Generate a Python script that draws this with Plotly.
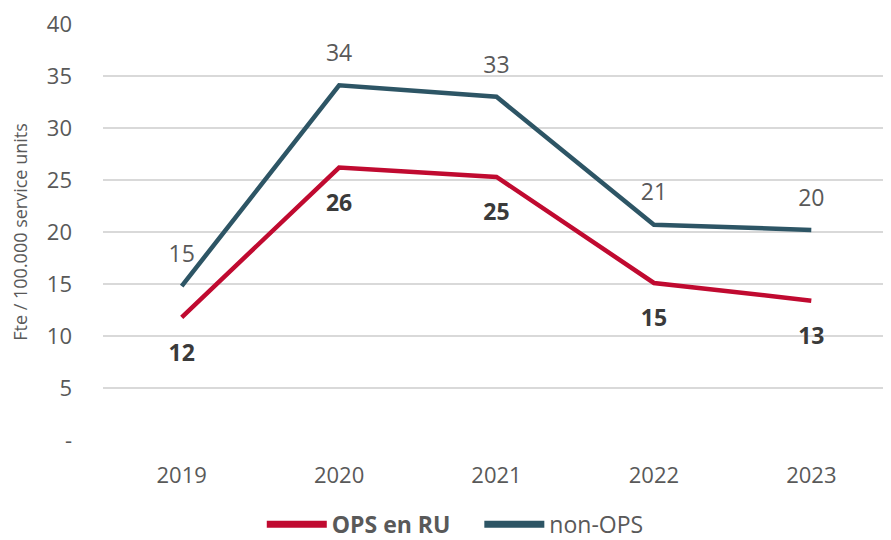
import plotly.graph_objects as go

years = ["2019", "2020", "2021", "2022", "2023"]
ops_ru = [11.8, 26.2, 25.3, 15.1, 13.4]
non_ops = [14.8, 34.1, 33.0, 20.7, 20.2]
y_ticks = [0, 5, 10, 15, 20, 25, 30, 35, 40]
y_tick_labels = ["-", "5", "10", "15", "20", "25", "30", "35", "40"]
series_names = ["<b>OPS en RU</b>\u00a0\u00a0\u00a0\u00a0", "non-OPS"]

RED = "#C00A30"
TEAL = "#2D5565"
GREY = "#595959"
FONT = "Open Sans, sans-serif"

fig = go.Figure()
fig.add_trace(go.Scatter(x=years, y=ops_ru, mode="lines", showlegend=False,
                         line=dict(color=RED, width=4.5), hoverinfo="skip"))
fig.add_trace(go.Scatter(x=years, y=non_ops, mode="lines", showlegend=False,
                         line=dict(color=TEAL, width=4.5), hoverinfo="skip"))
# data labels
fig.add_trace(go.Scatter(x=years, y=ops_ru, mode="markers+text", showlegend=False,
                         marker=dict(size=40, opacity=0, color=RED),
                         text=[f"<b>{v:.0f}</b>" for v in ops_ru], textposition="bottom center",
                         textfont=dict(family=FONT, size=23, color="#3a3a3a"),
                         hoverinfo="skip"))
fig.add_trace(go.Scatter(x=years, y=non_ops, mode="markers+text", showlegend=False,
                         marker=dict(size=28, opacity=0, color=TEAL),
                         text=[f"{v:.0f}" for v in non_ops], textposition="top center",
                         textfont=dict(family=FONT, size=23, color=GREY),
                         hoverinfo="skip"))
# legend entries
for name, col in zip(series_names, [RED, TEAL]):
    fig.add_trace(go.Scatter(x=[None], y=[None], mode="lines", name=name,
                             line=dict(color=col, width=7)))

fig.update_layout(
    width=891, height=540,
    margin=dict(l=95, r=9, t=16, b=108),
    paper_bgcolor="white", plot_bgcolor="white",
    font=dict(family=FONT, size=22, color=GREY),
    showlegend=True,
    legend=dict(orientation="h", xref="container", yref="container",
                x=0.502, xanchor="center", y=0.044, yanchor="middle",
                font=dict(family=FONT, size=23, color=GREY), itemwidth=60,
                tracegroupgap=0),
)
fig.update_xaxes(type="category", range=[-0.5, 4.5], showgrid=False, showline=False,
                 zeroline=False, ticks="", tickfont=dict(family=FONT, size=22, color=GREY),
                 ticklabelstandoff=20, automargin=False)
fig.update_yaxes(range=[0, 40], tickvals=y_ticks, ticktext=y_tick_labels,
                 showgrid=True, gridcolor="#D9D9D9", gridwidth=1.5, zeroline=False,
                 showline=False, ticks="", ticklabelstandoff=30, automargin=False,
                 ticklabeloverflow="allow",
                 tickfont=dict(family=FONT, size=22, color=GREY),
                 title=dict(text="Fte / 100.000 service units", standoff=21,
                            font=dict(family=FONT, size=18, color=GREY)))

fig.write_html("out.html")
